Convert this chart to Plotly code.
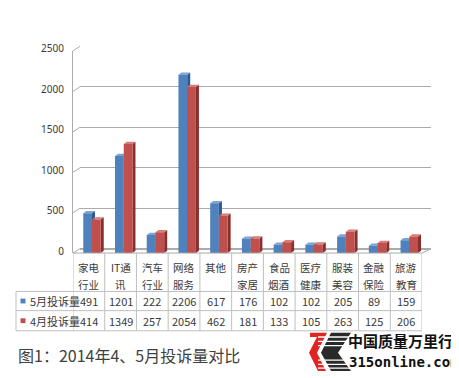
import plotly.graph_objects as go

# ---------------- data ----------------
cat_line1 = ["家电", "IT通", "汽车", "网络", "其他", "房产", "食品", "医疗", "服装", "金融", "旅游"]
cat_line2 = ["行业", "讯", "行业", "服务", "", "家居", "烟酒", "健康", "美容", "保险", "教育"]
may_values = [491, 1201, 222, 2206, 617, 176, 102, 102, 205, 89, 159]
apr_values = [414, 1349, 257, 2054, 462, 181, 133, 105, 263, 125, 206]
series_names = ["5月投诉量", "4月投诉量"]
y_ticks = [0, 500, 1000, 1500, 2000, 2500]
caption = "图1：2014年4、5月投诉量对比"
logo_cn = "中国质量万里行"
logo_en = "315online.com"

# ---------------- geometry helpers ----------------
# the page body has an 8px margin, so the figure starts at (8, 8) in the window
PAGE_OFF = 8
W, H = 459 - PAGE_OFF, 378 - PAGE_OFF
def px(x):
    return (x - PAGE_OFF) / W
def py(y):
    return 1 - (y - PAGE_OFF) / H

FRONT_L, FRONT_R = 73, 422       # front plane x (window px)
BACK_L, BACK_R = 80, 431         # back wall x
FRONT_Y0, FRONT_Y1 = 253, 42.3   # value 0 / 2500 on bar scale
BACK_Y0, BACK_Y1 = 248.5, 37.5   # value 0 / 2500 on back wall
YMAX = 2500

BLUE = dict(front="#4F81BD", top="#7EA3D3", side="#2E5A8E")
RED = dict(front="#C0504D", top="#D67C79", side="#8A2F2C")
GRID = "#ABABAB"
TXT = "#3A3A3A"
CJK = "Noto Sans CJK SC"

n = len(cat_line1)
idx = list(range(n))
BAR_W = 0.275
DX = 0.095
DY = 28

fig = go.Figure()

# back wall (gridlines) on x/y
fig.add_trace(go.Scatter(x=[0.5], y=[0], mode="markers", marker=dict(opacity=0),
                         hoverinfo="skip", showlegend=False, xaxis="x", yaxis="y"))

def add_bar3d(values, offset, col):
    side_x, side_y, top_x, top_y, fr_x, fr_y = [], [], [], [], [], []
    for i, v in zip(idx, values):
        x0 = i + offset
        x1 = x0 + BAR_W
        side_x += [x1, x1 + DX, x1 + DX, x1, x1, None]
        side_y += [0, DY, v + DY, v, 0, None]
        top_x += [x0, x0 + DX, x1 + DX, x1, x0, None]
        top_y += [v, v + DY, v + DY, v, v, None]
        fr_x += [x0, x1, x1, x0, x0, None]
        fr_y += [0, 0, v, v, 0, None]
    for xs, ys, c in ((side_x, side_y, col["side"]), (top_x, top_y, col["top"]),
                      (fr_x, fr_y, col["front"])):
        fig.add_trace(go.Scatter(x=xs, y=ys, mode="lines", fill="toself", fillcolor=c,
                                 line=dict(width=0, color=c), hoverinfo="skip",
                                 showlegend=False, xaxis="x2", yaxis="y2"))

add_bar3d(may_values, -0.176, BLUE)
add_bar3d(apr_values, 0.099, RED)

shapes = []
annotations = []

def note(x, y, text, size, color=TXT, family=CJK, xref="paper", xanchor="center"):
    annotations.append(dict(xref=xref, yref="paper", x=x, y=y, text=text, showarrow=False,
                            xanchor=xanchor, yanchor="middle", align=xanchor if xanchor != "center" else "center",
                            font=dict(family=family, size=size, color=color)))

# connectors between front axis and back wall
for v in y_ticks:
    yf = FRONT_Y0 - v * (FRONT_Y0 - FRONT_Y1) / YMAX
    yb = BACK_Y0 - v * (BACK_Y0 - BACK_Y1) / YMAX
    shapes.append(dict(type="line", xref="paper", yref="paper", x0=px(FRONT_L), y0=py(yf),
                       x1=px(BACK_L), y1=py(yb), line=dict(color=GRID, width=1)))
# floor front edge and right diagonal
shapes.append(dict(type="line", xref="paper", yref="paper", x0=px(FRONT_L), y0=py(FRONT_Y0),
                   x1=px(FRONT_R), y1=py(FRONT_Y0), line=dict(color=GRID, width=1)))
shapes.append(dict(type="line", xref="paper", yref="paper", x0=px(FRONT_R), y0=py(FRONT_Y0),
                   x1=px(BACK_R), y1=py(BACK_Y0), line=dict(color=GRID, width=1)))

# ---------------- data table ----------------
TAB_L = 16
ROW_LINES = [293, 313, 334]
TAB_BOTTOM = 334
TABLE_LINE = "#BFBFBF"
for i in range(n + 1):
    shapes.append(dict(type="line", xref="x2", yref="paper", x0=i - 0.5, x1=i - 0.5,
                       y0=py(FRONT_Y0), y1=py(TAB_BOTTOM), line=dict(color=TABLE_LINE, width=1)))
shapes.append(dict(type="line", xref="paper", yref="paper", x0=px(TAB_L), x1=px(TAB_L),
                   y0=py(ROW_LINES[0]), y1=py(TAB_BOTTOM), line=dict(color=TABLE_LINE, width=1)))
for ry in ROW_LINES:
    shapes.append(dict(type="line", xref="paper", yref="paper", x0=px(TAB_L), x1=px(FRONT_R),
                       y0=py(ry), y1=py(ry), line=dict(color=TABLE_LINE, width=1)))

for i in idx:
    note(i, py(268), cat_line1[i], 10.5, xref="x2")
    if cat_line2[i]:
        note(i, py(285.5), cat_line2[i], 10.5, xref="x2")
    note(i, py(303), str(may_values[i]), 11, xref="x2")
    note(i, py(323.5), str(apr_values[i]), 11, xref="x2")

for name, ycen, col in ((series_names[0], 303, BLUE["front"]), (series_names[1], 323.5, RED["front"])):
    shapes.append(dict(type="rect", xref="paper", yref="paper", x0=px(20.5), x1=px(25.5),
                       y0=py(ycen - 2.5), y1=py(ycen + 2.5), fillcolor=col, line=dict(width=0)))
    note(px(27.5), py(ycen), name, 11, xanchor="left")

# caption
note(px(15.5), py(359), caption, 16, color="#404040", xanchor="left")

# ---------------- logo ----------------
def path(points):
    return "M " + " L ".join(f"{px(a):.5f},{py(b):.5f}" for a, b in points) + " Z"

shapes.append(dict(type="path", xref="paper", yref="paper",
                   path=path([(310, 336), (327, 336), (317, 357), (326, 376), (318, 376),
                              (309, 357), (317, 340.5), (310, 340.5)]),
                   fillcolor="#E02424", line=dict(width=0)))
shapes.append(dict(type="path", xref="paper", yref="paper",
                   path=path([(331, 336), (351, 336), (338, 357), (351, 376), (331, 376), (321, 357)]),
                   fillcolor="#2A2A2A", line=dict(width=0)))
for sy in (340.5, 345, 349.5, 364.5, 369, 373):
    shapes.append(dict(type="line", xref="paper", yref="paper", x0=px(318), x1=px(352),
                       y0=py(sy), y1=py(sy), line=dict(color="white", width=1.3)))
note(px(346), py(344), "<b>" + logo_cn + "</b>", 15, color="#111111", xanchor="left")
note(px(347), py(366.5), "<b>" + logo_en + "</b>", 14, color="#111111",
     family="DejaVu Sans Mono", xanchor="left")

fig.update_layout(
    width=W, height=H,
    margin=dict(l=0, r=0, t=0, b=0),
    paper_bgcolor="white", plot_bgcolor="rgba(0,0,0,0)",
    showlegend=False,
    xaxis=dict(domain=[px(BACK_L), px(BACK_R)], range=[0, 1], visible=False, fixedrange=True),
    yaxis=dict(domain=[py(BACK_Y0), py(BACK_Y1)], range=[0, YMAX], tickvals=y_ticks,
               showgrid=True, gridcolor=GRID, gridwidth=1, zeroline=True, zerolinecolor=GRID,
               showticklabels=False, showline=False, ticks="", anchor="x"),
    xaxis2=dict(domain=[px(FRONT_L), px(FRONT_R)], range=[-0.5, n - 0.5], showgrid=False,
                zeroline=False, showticklabels=False, ticks="", showline=False, anchor="y2"),
    yaxis2=dict(domain=[py(FRONT_Y0), py(FRONT_Y1)], range=[0, YMAX], tickvals=y_ticks,
                showgrid=False, zeroline=False, showline=True, linecolor=GRID, linewidth=1,
                ticks="", ticklabelstandoff=6, ticklabelshift=-2,
                tickfont=dict(family="Noto Sans", size=10, color=TXT), anchor="x2"),
    shapes=shapes,
    annotations=annotations,
)

fig.write_html("out.html")
